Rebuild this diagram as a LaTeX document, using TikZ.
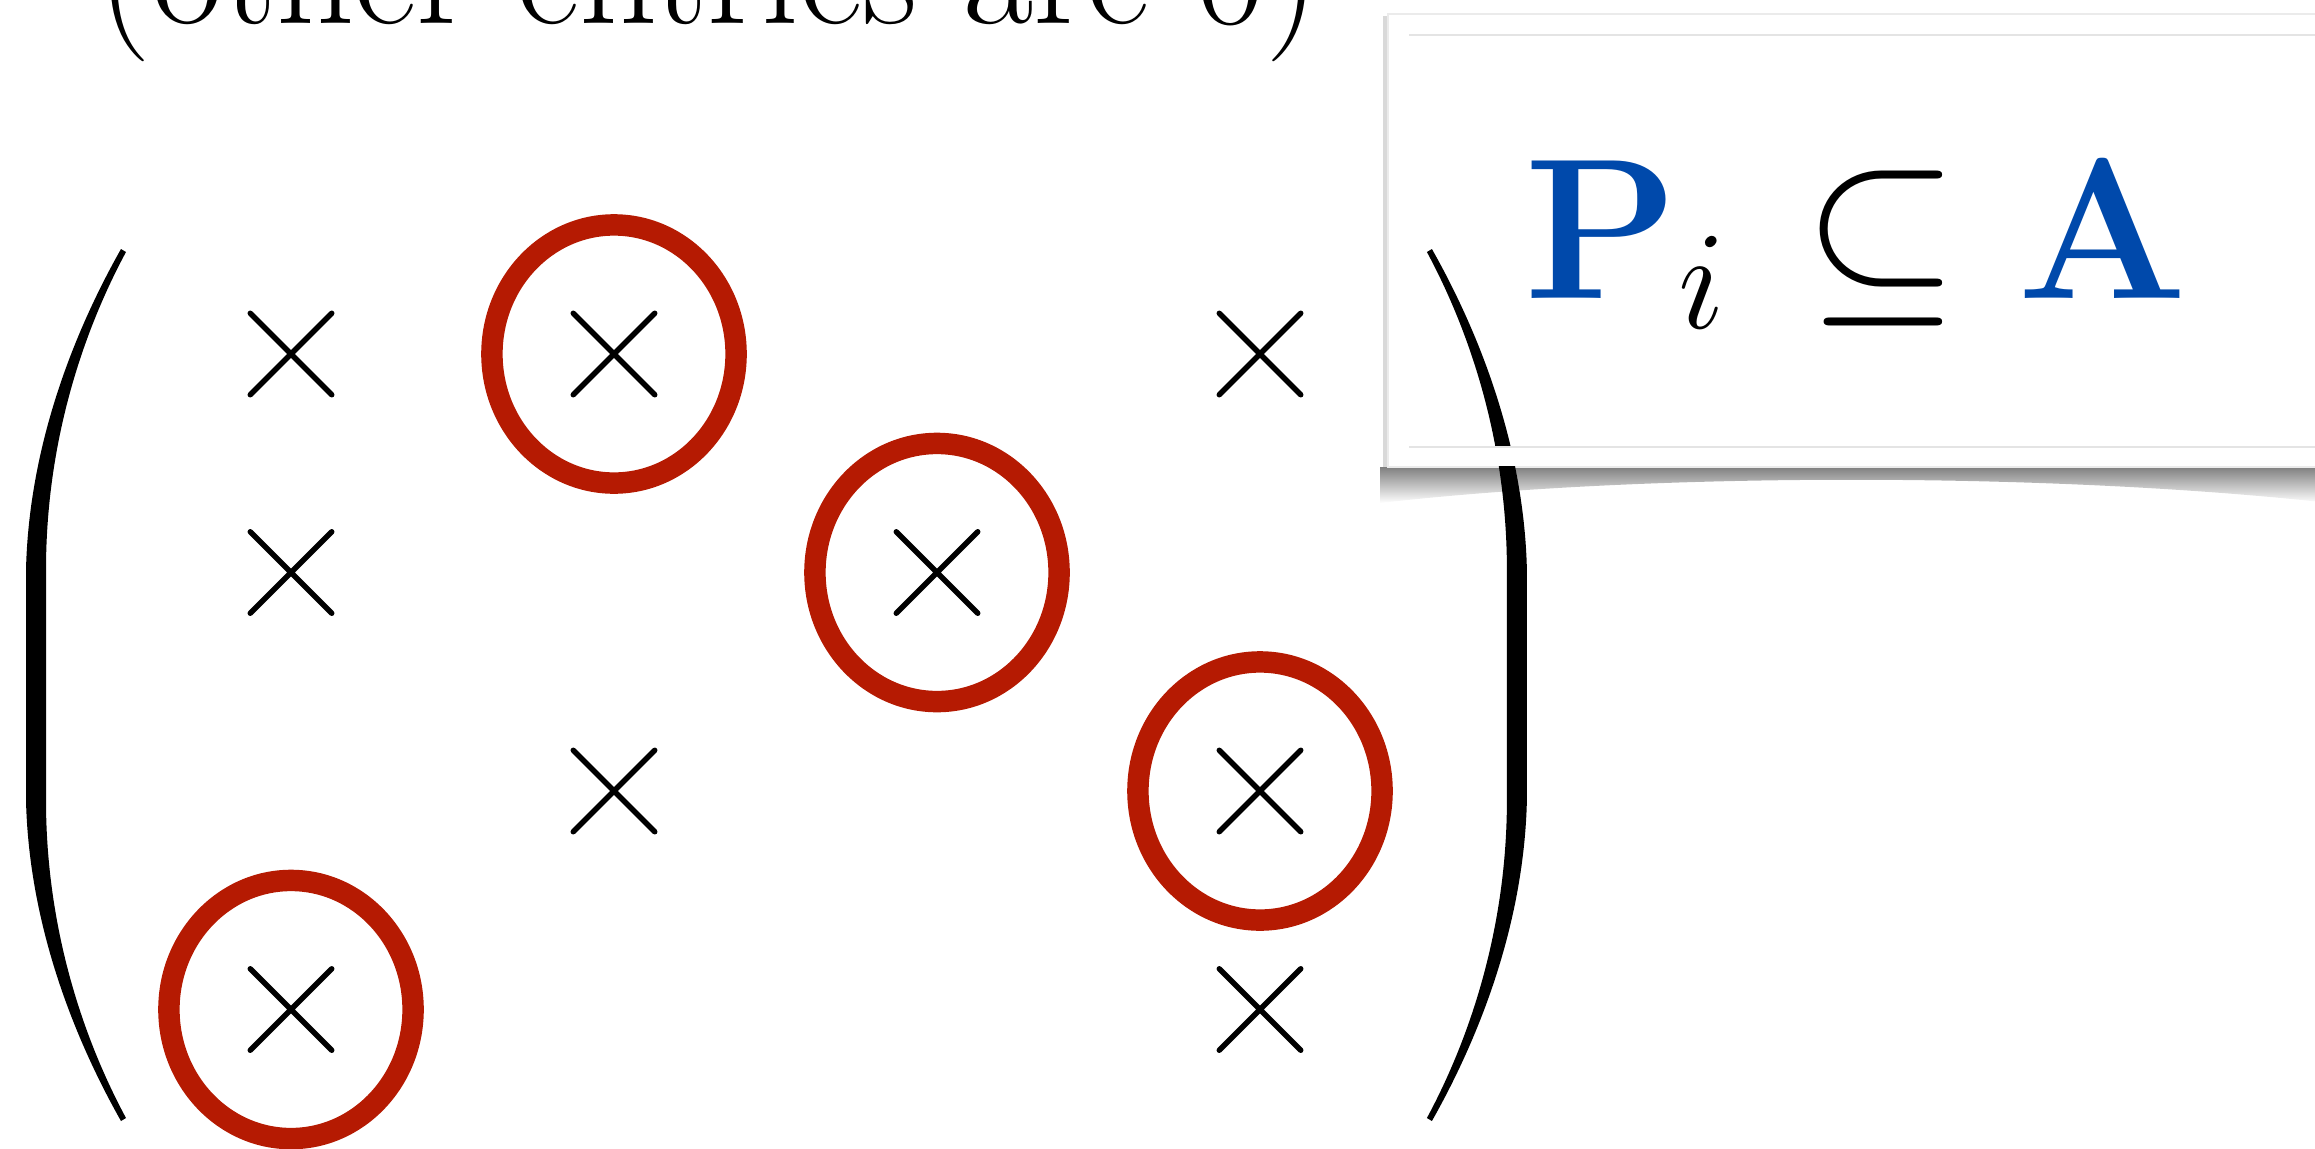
\RequirePackage{fix-cm}
\documentclass[tikz,border=0pt]{standalone}
\usetikzlibrary{shapes.geometric,shapes.misc,positioning}
\definecolor{ringred}{HTML}{B51A02}
\definecolor{matblue}{HTML}{0049AB}
\definecolor{framegray}{HTML}{E4E4E4}
\tikzset{
  xmark/.style={cross out, draw=black, line width=1.55pt, line cap=round, minimum size=0.76cm, inner sep=0pt},
  ring/.style={ellipse, draw=ringred, line width=6.1pt, minimum width=2.44cm, minimum height=2.58cm, inner sep=0pt},
  big/.style={font=\fontsize{57}{64}\selectfont, inner sep=0pt, anchor=base},
  note/.style={font=\fontsize{43.5}{48}\selectfont, inner sep=0pt, anchor=base},
  paren/.pic={\fill (121,249) .. controls (78,325) and (29,440) .. (26,570) -- (26,800)
      .. controls (29,930) and (78,1045) .. (121,1121) -- (126,1118)
      .. controls (84,1040) and (46,930) .. (46,800) -- (46,570)
      .. controls (46,440) and (84,330) .. (126,252) -- cycle;},
}
\begin{document}
\begin{tikzpicture}[x=0.01cm, y=-0.01cm]
  \useasboundingbox (0,0) rectangle (2315,1148);
  \clip (0,0) rectangle (2315,1148);
  \node[note] (other) at (709,23) {(other entries are 0)};
  \shade[top color=black!50, bottom color=white] (1380,467) -- (2330,467) -- (2330,503)
    .. controls (2050,472) and (1650,472) .. (1380,503) -- cycle;
  \fill[black!15] (1383,16) rectangle (1388,467);
  \fill[white, draw=black!8] (1388,14) rectangle (2330,467);
  \node[big] (pi) at (1626,298) {$\color{matblue}\mathbf{P}_{\color{black}i}$};
  \node[big] (sub) at (1881,298) {$\subseteq$};
  \node[big] (a) at (2103,298) {$\color{matblue}\mathbf{A}$};
  \pic {paren};
  \begin{scope}[xshift=15.52cm, xscale=-1]
    \pic[transform shape] {paren};
  \end{scope}
  \fill[white] (1389,448) rectangle (2330,466);
  \draw[framegray] (1409,35) -- (2330,35) (1409,447) -- (2330,447);
  \foreach \r/\c in {1/1,1/2,1/4,2/1,2/3,3/2,3/4,4/1,4/4}
    \node[xmark] (m\r\c) at ({291+323*(\c-1)},{354+218.5*(\r-1)}) {};
  \foreach \n in {12,23,34,41}
    \node[ring] (r\n) at (m\n) {};
\end{tikzpicture}
\end{document}
